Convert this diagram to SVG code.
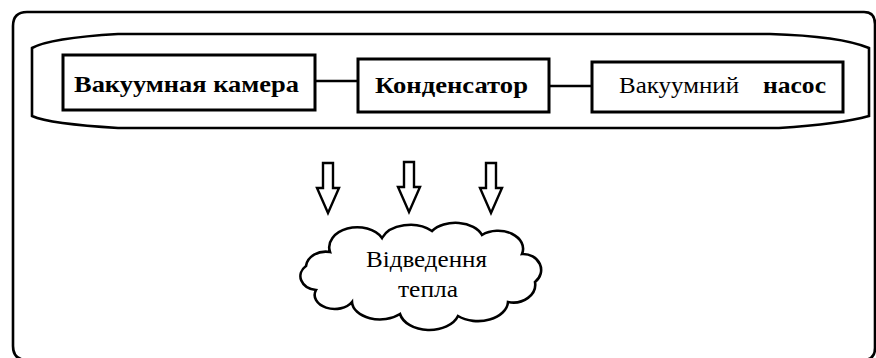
<svg xmlns="http://www.w3.org/2000/svg" width="876" height="358" viewBox="0 0 876 358">
<style>
.ln{fill:none;stroke:#000;stroke-width:2.6}
.bx{fill:#fff;stroke:#000;stroke-width:3}
.tb{font-family:"Liberation Serif","Times New Roman",serif;font-weight:bold;font-size:23px;fill:#000}
.tr{font-family:"Liberation Serif","Times New Roman",serif;font-size:23px;fill:#000}
.tc{font-family:"Liberation Serif","Times New Roman",serif;font-size:24px;fill:#000}
.ar{fill:#fff;stroke:#000;stroke-width:2.4;stroke-linejoin:miter}
</style>
<rect width="876" height="358" fill="#fff"/>
<g id="frame">
<path class="ln" d="M13 346 V26 Q13 12 27 12 H864 Q875 12 875 24 V348 Q875 360 863 360 H27 Q13 360 13 346 Z"/>
</g>
<g id="system">
<path class="ln" d="M118 34 H770 Q840 36 869 48 V116 Q840 124 779 128 H118 Q50 124 32 116 V48 Q50 38 118 34 Z"/>
</g>
<g id="connectors">
<line class="ln" x1="315" y1="81" x2="358" y2="81"/>
<line class="ln" x1="549" y1="86" x2="592" y2="86"/>
</g>
<g id="vacuum-chamber">
<rect class="bx" x="63" y="55" width="252" height="55"/>
<text class="tb" x="74" y="92" textLength="225" lengthAdjust="spacingAndGlyphs">Вакуумная камера</text>
</g>
<g id="condenser">
<rect class="bx" x="358" y="59" width="191" height="53"/>
<text class="tb" x="375" y="93" textLength="153" lengthAdjust="spacingAndGlyphs">Конденсатор</text>
</g>
<g id="vacuum-pump">
<rect class="bx" x="592" y="62" width="251" height="50"/>
<text class="tr" x="619" y="93" textLength="120" lengthAdjust="spacingAndGlyphs">Вакуумний</text>
<text class="tb" x="763" y="93" textLength="63" lengthAdjust="spacingAndGlyphs">насос</text>
</g>
<g id="arrows">
<path class="ar" d="M323 163 H333 V188 H339 L328 213 L317 188 H323 Z"/>
<path class="ar" d="M404 162 H414 V187 H420 L409 212 L398 187 H404 Z"/>
<path class="ar" d="M486 163 H496 V188 H502 L491 213 L480 188 H486 Z"/>
</g>
<g id="heat-removal">
<path class="ln" d="M330 252 A28 20 0 0 1 382 238 A30 20 0 0 1 432 231 A28 18 0 0 1 482 235 A25 18 0 0 1 522 254 A18 16 0 0 1 535 282 A22 18 0 0 1 508 302 A30 20 0 0 1 458 316 A30 20 0 0 1 400 314 A28 18 0 0 1 352 302 A20 14 0 0 1 316 290 A18 14 0 0 1 306 266 A20 16 0 0 1 330 252 Z"/>
<text class="tc" x="366" y="267" textLength="121" lengthAdjust="spacingAndGlyphs">Відведення</text>
<text class="tc" x="398" y="297" textLength="60" lengthAdjust="spacingAndGlyphs">тепла</text>
</g>
</svg>
